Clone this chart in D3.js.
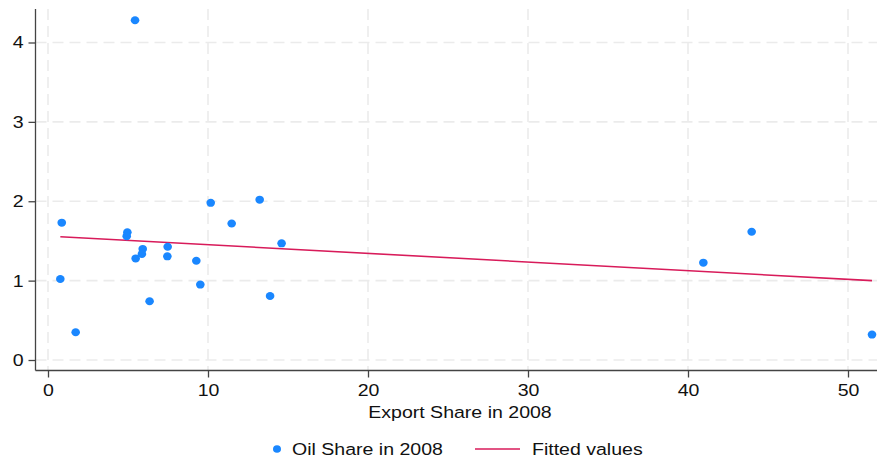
<!DOCTYPE html>
<html>
<head>
<meta charset="utf-8">
<script src="https://cdn.jsdelivr.net/npm/d3@7"></script>
<style>
  html, body { margin: 0; padding: 0; background: #fff; }
  svg { display: block; }
  text { font-family: "Liberation Sans", Arial, Helvetica, sans-serif; fill: #111; }
  .wide { transform-box: fill-box; transform: scaleX(1.15); }
</style>
</head>
<body>
<div id="chart"></div>
<script>
// Data
const exportShare = [0.86, 0.77, 1.73, 4.96, 4.92, 5.48, 5.92, 5.87, 6.35, 7.48, 7.46,
                     9.27, 9.52, 10.17, 11.48, 13.23, 13.88, 14.6, 5.44, 40.96, 43.98, 51.5];
const oilShare    = [1.73, 1.02, 0.35, 1.61, 1.56, 1.28, 1.40, 1.335, 0.74, 1.427, 1.306,
                     1.25, 0.95, 1.98, 1.72, 2.02, 0.806, 1.47, 4.28, 1.226, 1.616, 0.32];
const fitX = [0.77, 51.5];
const fitY = [1.553, 1.0];
const xTicks = [0, 10, 20, 30, 40, 50];
const yTicks = [0, 1, 2, 3, 4];
const xTitle = 'Export Share in 2008';
const legendLabels = ['Oil Share in 2008', 'Fitted values'];

const W = 877, H = 461;
const axisX = 35.5, axisY = 370.5, plotTop = 9;
const dotColor = '#1a87ff';
const fitColor = '#d81b5a';

const svg = d3.select('#chart').append('svg')
    .attr('width', W)
    .attr('height', H);

// scales
const x = d3.scaleLinear().domain([0, 50]).range([48, 848]);
const y = d3.scaleLinear().domain([0, 4]).range([360, 42.5]);

// grid lines (dashed, light grey)
svg.append('g')
    .selectAll('line')
    .data(yTicks)
    .join('line')
    .attr('x1', axisX).attr('x2', W)
    .attr('y1', d => y(d)).attr('y2', d => y(d))
    .attr('stroke', '#ebebeb')
    .attr('stroke-width', 1.6)
    .attr('stroke-dasharray', '11,6');

svg.append('g')
    .selectAll('line')
    .data(xTicks)
    .join('line')
    .attr('x1', d => x(d)).attr('x2', d => x(d))
    .attr('y1', plotTop).attr('y2', axisY)
    .attr('stroke', '#ebebeb')
    .attr('stroke-width', 1.6)
    .attr('stroke-dasharray', '11,6');

// axes
const yAxis = svg.append('g')
    .attr('transform', `translate(${axisX},0)`)
    .call(d3.axisLeft(y).tickValues(yTicks).tickFormat(d3.format('d')).tickSize(7).tickPadding(5));

const xAxis = svg.append('g')
    .attr('transform', `translate(0,${axisY})`)
    .call(d3.axisBottom(x).tickValues(xTicks).tickFormat(d3.format('d')).tickSize(7).tickPadding(6));

[yAxis, xAxis].forEach(g => {
    g.select('.domain').remove();
    g.selectAll('line').attr('stroke', '#444').attr('stroke-width', 1.3);
    g.selectAll('text')
        .attr('font-size', 17)
        .attr('class', 'wide')
        .style('fill', '#111');
});
yAxis.selectAll('text').style('transform-origin', 'right center');
xAxis.selectAll('text').style('transform-origin', 'center');

// axis lines
svg.append('line')
    .attr('x1', axisX).attr('x2', axisX)
    .attr('y1', plotTop).attr('y2', axisY)
    .attr('stroke', '#444').attr('stroke-width', 1.3);
svg.append('line')
    .attr('x1', axisX).attr('x2', W)
    .attr('y1', axisY).attr('y2', axisY)
    .attr('stroke', '#444').attr('stroke-width', 1.3);

// axis title
svg.append('text')
    .attr('x', 460)
    .attr('y', 418)
    .attr('text-anchor', 'middle')
    .attr('font-size', 17)
    .attr('class', 'wide')
    .style('transform-origin', 'center')
    .text(xTitle);

// fitted line
const pts = exportShare.map((v, i) => ({ x: v, y: oilShare[i] }));
const fit = fitX.map((v, i) => ({ x: v, y: fitY[i] }));

svg.append('path')
    .datum(fit)
    .attr('fill', 'none')
    .attr('stroke', fitColor)
    .attr('stroke-width', 1.6)
    .attr('d', d3.line().x(d => x(d.x)).y(d => y(d.y)));

// scatter points
svg.selectAll('.dot')
    .data(pts)
    .join('ellipse')
    .attr('class', 'dot')
    .attr('cx', d => x(d.x))
    .attr('cy', d => y(d.y))
    .attr('rx', 4.3)
    .attr('ry', 4)
    .attr('fill', dotColor);

// legend
const legend = svg.append('g');
legend.append('ellipse')
    .attr('cx', 277).attr('cy', 449)
    .attr('rx', 4).attr('ry', 3.8)
    .attr('fill', dotColor);
legend.append('text')
    .attr('x', 292).attr('y', 455.5)
    .attr('font-size', 17)
    .attr('class', 'wide')
    .style('transform-origin', 'left center')
    .text(legendLabels[0]);
legend.append('line')
    .attr('x1', 475).attr('x2', 520)
    .attr('y1', 449).attr('y2', 449)
    .attr('stroke', fitColor).attr('stroke-width', 1.6);
legend.append('text')
    .attr('x', 532).attr('y', 455.5)
    .attr('font-size', 17)
    .attr('class', 'wide')
    .style('transform-origin', 'left center')
    .text(legendLabels[1]);
</script>
</body>
</html>
